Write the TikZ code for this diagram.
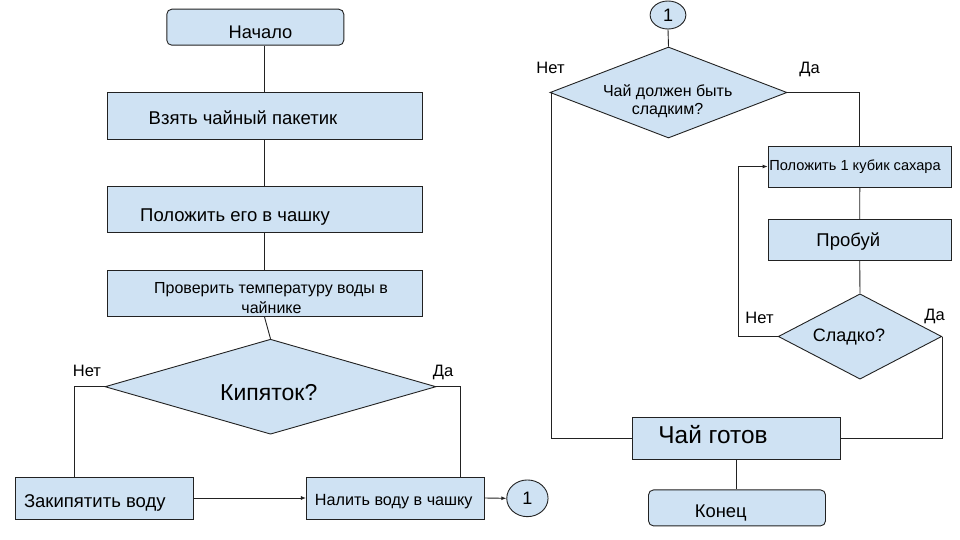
\documentclass[tikz,border=0pt]{standalone}
\usepackage{fontspec}
\setmainfont{Liberation Sans}
\usetikzlibrary{shapes.geometric,arrows.meta}
\definecolor{boxfill}{HTML}{CFE2F3}
\definecolor{edge}{HTML}{222222}
\tikzset{
  box/.style={draw=edge, fill=boxfill, line width=0.9pt, inner sep=0pt, minimum width=#1},
  box/.default=315pt,
  term/.style={draw=edge, fill=boxfill, line width=0.9pt, inner sep=0pt, rounded corners=5pt, minimum width=177pt, minimum height=36pt},
  decision/.style={draw=edge, fill=boxfill, line width=0.9pt, diamond, inner sep=0pt},
  conn/.style={draw=edge, fill=boxfill, line width=0.9pt, ellipse, inner sep=0pt},
  txt/.style={anchor=base, inner sep=0pt, text=black},
  line/.style={draw=edge, line width=0.9pt},
  arr/.style={line, -{Latex[length=5pt,width=4pt]}}
}
\begin{document}
\begin{tikzpicture}[x=1pt,y=-1pt]
\useasboundingbox (0,0) rectangle (960,540);
% left column
\node[term] (start) at (255.3,27.2) {};
\node[box, minimum height=47pt] (s1) at (264.5,115.5) {};
\node[box, minimum height=46pt] (s2) at (264.5,209) {};
\node[box, minimum height=46pt] (s3) at (264.5,293.5) {};
\node[decision, minimum width=331pt, minimum height=95pt] (d1) at (270.5,386.7) {};
\node[box=178.6pt, minimum height=42pt] (boil) at (104.3,498) {};
\node[box=177.6pt, minimum height=42pt] (pour) at (395.2,498) {};
\node[conn, minimum width=41.3pt, minimum height=36.7pt] (c1) at (527.4,498.3) {};
% right column
\node[conn, minimum width=35.7pt, minimum height=28pt] (c2) at (668,15) {};
\node[decision, minimum width=237pt, minimum height=91pt] (d2) at (668.5,92.5) {};
\node[box=183.5pt, minimum height=41pt] (sugar) at (859.8,166.5) {};
\node[box=182.7pt, minimum height=41.4pt] (taste) at (859.7,240) {};
\node[decision, minimum width=163.4pt, minimum height=85.3pt] (d3) at (860,336.5) {};
\node[box=208.4pt, minimum height=42pt] (ready) at (736.5,438.3) {};
\node[term] (end) at (737,507.9) {};
% texts
\node[txt, font=\fontsize{18.3}{20}\selectfont] (t0) at (260.5,38.3) {Начало};
\node[txt, font=\fontsize{18.5}{20}\selectfont] (t1) at (243,125) {Взять чайный пакетик};
\node[txt, font=\fontsize{18.5}{20}\selectfont] (t2) at (235,221.7) {Положить его в чашку};
\node[txt, font=\fontsize{16}{18}\selectfont] (t3a) at (271,293.5) {Проверить температуру воды в};
\node[txt, font=\fontsize{16}{18}\selectfont] (t3b) at (271.5,313) {чайнике};
\node[txt, font=\fontsize{23}{26}\selectfont] (td1) at (268.7,400) {Кипяток?};
\node[txt, font=\fontsize{16.5}{18}\selectfont] (n1) at (87,376) {Нет};
\node[txt, font=\fontsize{16.5}{18}\selectfont] (y1) at (443,376) {Да};
\node[txt, font=\fontsize{18.5}{20}\selectfont] (tb) at (94.8,507.7) {Закипятить воду};
\node[txt, font=\fontsize{16.2}{18}\selectfont] (tp) at (393.8,505.7) {Налить воду в чашку};
\node[txt, font=\fontsize{18}{20}\selectfont] (tc1) at (527.4,504.8) {1};
\node[txt, font=\fontsize{18}{20}\selectfont] (tc2) at (668,21.5) {1};
\node[txt, font=\fontsize{16}{18}\selectfont] (td2a) at (667.7,96.7) {Чай должен быть};
\node[txt, font=\fontsize{16}{18}\selectfont] (td2b) at (667.5,115) {сладким?};
\node[txt, font=\fontsize{16.5}{18}\selectfont] (n2) at (550.5,73.3) {Нет};
\node[txt, font=\fontsize{16.5}{18}\selectfont] (y2) at (809.5,73.3) {Да};
\node[txt, font=\fontsize{14.6}{16}\selectfont] (ts) at (855,170.7) {Положить 1 кубик сахара};
\node[txt, font=\fontsize{18.5}{20}\selectfont] (tt) at (848.3,246) {Пробуй};
\node[txt, font=\fontsize{18}{20}\selectfont] (td3) at (849,341.7) {Сладко?};
\node[txt, font=\fontsize{16.5}{18}\selectfont] (n3) at (759.5,323.3) {Нет};
\node[txt, font=\fontsize{16.5}{18}\selectfont] (y3) at (934.5,320) {Да};
\node[txt, font=\fontsize{24.4}{26}\selectfont] (tr) at (713,443.3) {Чай готов};
\node[txt, font=\fontsize{18.4}{20}\selectfont] (te) at (720.8,517.7) {Конец};
% connectors left
\draw[line] (s1.north |- start.south) -- (s1.north);
\draw[line] (s1.south) -- (s2.north);
\draw[line] (s2.south) -- (s3.north);
\draw[line] (s3.south) -- (d1.north);
\draw[line] (d1.west) -| ([xshift=-30.3pt]boil.north);
\draw[line] (d1.east) -| ([xshift=64.8pt]pour.north);
\draw[arr] (boil.east) -- (pour.west);
\draw[arr] (pour.east) -- (c1.west);
% connectors right
\draw[line] (c2.south) -- (d2.north);
\draw[line] (d2.west) -- ++(2,0) |- (ready.west);
\draw[line] (d2.east) -| (sugar.north);
\draw[line] (sugar.south) -- (taste.north);
\draw[line] (taste.south) -- (d3.north);
\draw[arr] (d3.west) -- ++(-39,0) |- (sugar.west);
\draw[line] (d3.east) |- (ready.east);
\draw[line] (ready.south) -- (ready.south |- end.north);
\end{tikzpicture}
\end{document}
